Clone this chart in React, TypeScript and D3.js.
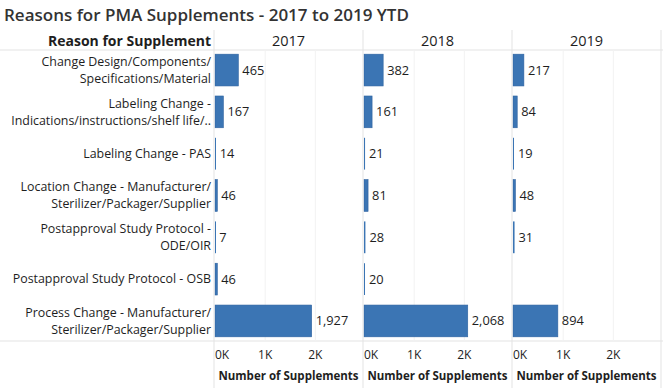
import React from 'react';
import * as d3 from 'd3';

const reasons: string[][] = [
  ['Change Design/Components/', 'Specifications/Material'],
  ['Labeling Change -', 'Indications/instructions/shelf life/..'],
  ['Labeling Change - PAS'],
  ['Location Change - Manufacturer/', 'Sterilizer/Packager/Supplier'],
  ['Postapproval Study Protocol -', 'ODE/OIR'],
  ['Postapproval Study Protocol - OSB'],
  ['Process Change - Manufacturer/', 'Sterilizer/Packager/Supplier'],
];

const years = ['2017', '2018', '2019'];

const values2017 = [465, 167, 14, 46, 7, 46, 1927];
const values2018 = [382, 161, 21, 81, 28, 20, 2068];
const values2019 = [217, 84, 19, 48, 31, 0, 894];

const tickValues = [0, 1000, 2000];

const W = 663;
const H = 388;
const FONT = '"Open Sans", "Noto Sans", sans-serif';
const BAR = '#3b75b4';
const BAR_EDGE = '#2f63a0';
const LINE = '#e3e3e3';
const GRID = '#f2f2f2';
const TEXT = '#1e1e1e';

export default function App() {
  const seriesByYear = [values2017, values2018, values2019];
  const headerTop = 30;
  const headerBottom = 50;
  const rowsBottom = 341;
  const labelRight = 211;
  const panelStart = 214;
  const panelW = 149;

  const y = d3
    .scaleBand<number>()
    .domain(d3.range(reasons.length))
    .range([headerBottom, rowsBottom])
    .paddingInner(0.24)
    .paddingOuter(0.1);

  const fmt = d3.format(',');
  const tickFmt = (v: number) => `${v / 1000}K`;

  return (
    <svg width={W} height={H} style={{ position: 'absolute', left: 0, top: 0, background: '#fff' }} fontFamily={FONT}>
      <text x={4} y={21} fontSize={17} fontWeight={600} fill="#333">
        Reasons for PMA Supplements - 2017 to 2019 YTD
      </text>

      {/* horizontal dividers */}
      <line x1={0} x2={W} y1={headerBottom} y2={headerBottom} stroke={LINE} />
      <line x1={0} x2={W} y1={rowsBottom} y2={rowsBottom} stroke={LINE} />

      <text x={labelRight} y={46} textAnchor="end" fontSize={14} fontWeight={700} fill={TEXT}>
        Reason for Supplement
      </text>

      {reasons.map((lines, i) => {
        const cy = (y(i) ?? 0) + y.bandwidth() / 2;
        const lh = 17;
        const start = cy - ((lines.length - 1) * lh) / 2;
        return (
          <text key={i} textAnchor="end" fontSize={12.4} fill={TEXT}>
            {lines.map((l, j) => (
              <tspan key={j} x={labelRight} y={start + j * lh} dy="0.35em">
                {l}
              </tspan>
            ))}
          </text>
        );
      })}

      {years.map((yr, p) => {
        const x0 = panelStart + p * panelW;
        const x = d3.scaleLinear().domain([0, 2950]).range([x0 + 1, x0 + panelW]);
        const vals = seriesByYear[p];
        return (
          <g key={yr}>
            {tickValues.slice(1).map((t) => (
              <line key={t} x1={x(t)} x2={x(t)} y1={headerBottom} y2={rowsBottom} stroke={GRID} />
            ))}
            <text x={x0 + panelW / 2} y={46} textAnchor="middle" fontSize={14.5} fill={TEXT}>
              {yr}
            </text>
            {vals.map((v, i) => {
              if (!v) return null;
              const by = y(i) ?? 0;
              const bw = Math.max(1, x(v) - x(0));
              return (
                <g key={i}>
                  <rect
                    x={x(0)}
                    y={by}
                    width={bw}
                    height={y.bandwidth()}
                    fill={BAR}
                    stroke={BAR_EDGE}
                    strokeWidth={bw > 2 ? 0.6 : 0}
                  />
                  <text x={x(v) + 4} y={by + y.bandwidth() / 2} dy="0.35em" fontSize={12.8} fill={TEXT}>
                    {fmt(v)}
                  </text>
                </g>
              );
            })}
            {tickValues.map((t, k) => (
              <text
                key={t}
                x={x(t)}
                y={355}
                dy="0.35em"
                textAnchor={k === 0 ? 'start' : 'middle'}
                fontSize={12}
                fill={TEXT}
              >
                {tickFmt(t)}
              </text>
            ))}
            <text x={x0 + panelW / 2} y={380} textAnchor="middle" fontSize={11.5} fontWeight={700} fill={TEXT}>
              Number of Supplements
            </text>
          </g>
        );
      })}

      {/* panel separators */}
      {d3.range(years.length + 1).map((p) => (
        <line
          key={p}
          x1={panelStart + p * panelW}
          x2={panelStart + p * panelW}
          y1={headerTop}
          y2={H}
          stroke={LINE}
        />
      ))}
    </svg>
  );
}
